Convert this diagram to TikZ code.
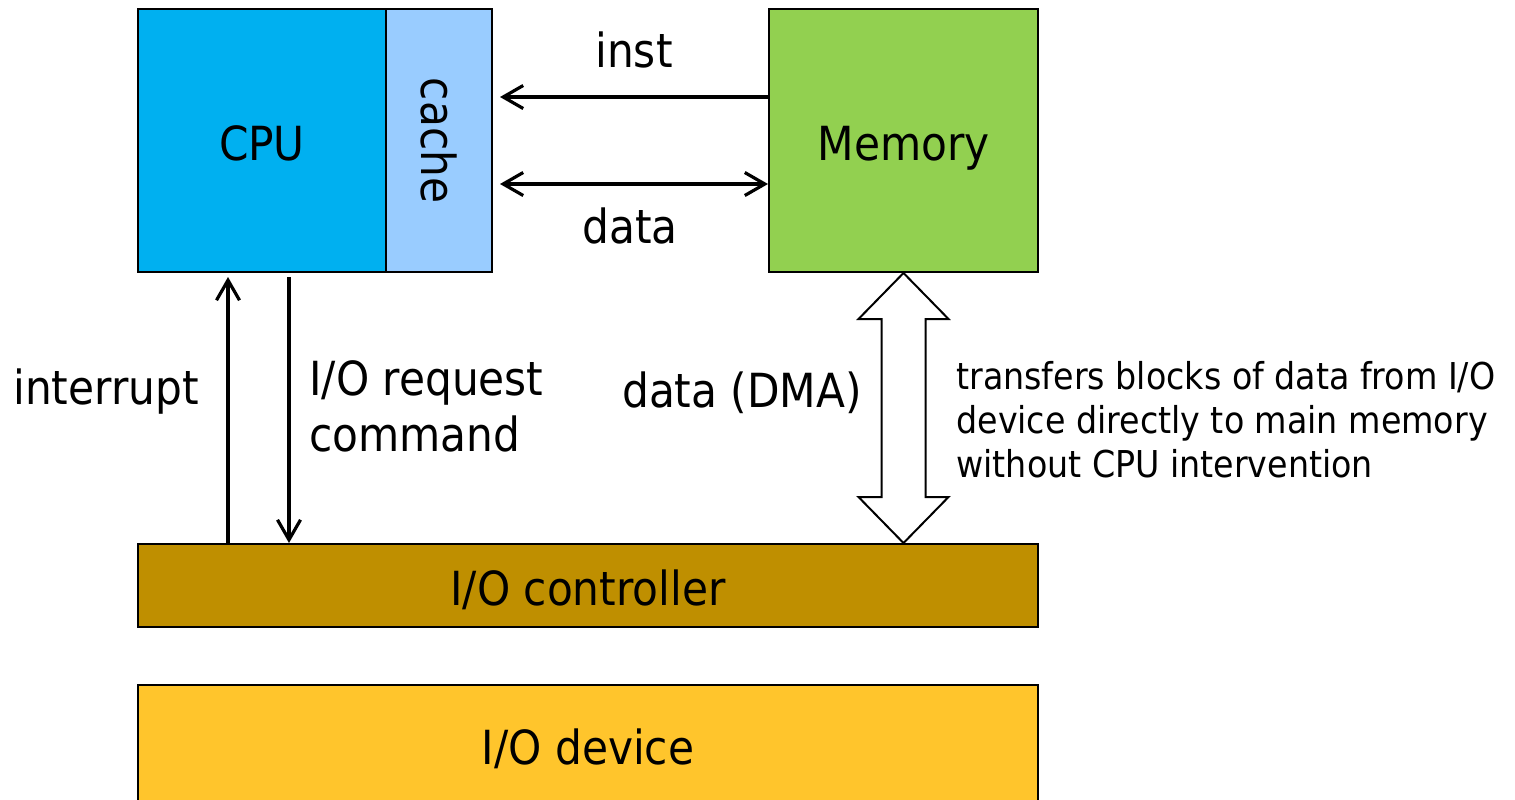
\documentclass[tikz,border=0pt]{standalone}
\usepackage{fontspec}
\setmainfont{DejaVu Sans Condensed}
\usetikzlibrary{arrows.meta,calc}

\definecolor{cpuc}{HTML}{00B0F0}
\definecolor{cachec}{HTML}{99CCFF}
\definecolor{memc}{HTML}{92D050}
\definecolor{ctrlc}{HTML}{BF8F00}
\definecolor{devc}{HTML}{FFC52C}

\begin{document}
\begin{tikzpicture}[x=0.5pt,y=-0.5pt,
  box/.style={draw=black,line width=1pt,inner sep=0pt,text height=19.5pt,text depth=0pt,
              font=\fontsize{23.5}{28}\selectfont},
  lbl/.style={inner sep=0pt,font=\fontsize{23.5}{28}\selectfont},
  note/.style={inner sep=0pt,font=\fontsize{18.5}{22}\selectfont},
  arr/.style={line width=1.6pt,-{Straight Barb[length=10pt,width=11.5pt,line width=1.6pt]}},
  arrs/.style={line width=1.6pt,{Straight Barb[length=10pt,width=11.5pt,line width=1.6pt]}-{Straight Barb[length=10pt,width=11.5pt,line width=1.6pt]}},
  fat/.style={draw=black,line width=1pt,fill=white,line join=miter}]
  \useasboundingbox (0,0) rectangle (1515,799);

  %Shape: Rectangle [CPU]
  \node[box,fill=cpuc,minimum width=124pt,minimum height=131.5pt] (cpu) at (262,140.5) {CPU};
  %Shape: Rectangle [cache]
  \node[box,fill=cachec,minimum width=53pt,minimum height=131.5pt,
        label={[rotate=-90,inner sep=0pt,font=\fontsize{23.5}{28}\selectfont]center:cache}] (cache) at (439,140.5) {};
  %Shape: Rectangle [Memory]
  \node[box,fill=memc,minimum width=134.5pt,minimum height=131.5pt] (mem) at (903.5,140.5) {Memory};
  %Shape: Rectangle [I/O controller]
  \node[box,fill=ctrlc,minimum width=450pt,minimum height=41.5pt] (ctrl) at (588,585.5) {I/O controller};
  %Shape: Rectangle [I/O device]
  \node[box,fill=devc,minimum width=450pt,minimum height=60pt] (dev) at (588,745) {I/O device};

  %Straight Lines [inst, data]
  \draw[arr] ([yshift=21.75pt]mem.west) -- ([xshift=3.5pt,yshift=21.75pt]cache.east);
  \draw[arrs] ([yshift=-21.75pt]mem.west) -- ([xshift=3.5pt,yshift=-21.75pt]cache.east);
  %Straight Lines [interrupt, request]
  \draw[arr] ([xshift=45.5pt]ctrl.north west) -- ([xshift=45.5pt,yshift=-2pt]cpu.south west);
  \draw[arr] ([xshift=76pt,yshift=-2pt]cpu.south west) -- ([xshift=76pt]ctrl.north west);

  %Shape: Double arrow [DMA]
  \coordinate (dmatop) at (mem.south);
  \coordinate (dmabot) at (mem.south |- ctrl.north);
  \draw[fat] (dmatop) -- ++(45,46) -- ++(-23,0) -- ($(dmabot)+(22,-46)$) -- ++(23,0)
    -- (dmabot) -- ++(-45,-46) -- ++(23,0) -- ($(dmatop)+(-22,46)$) -- ++(-23,0) -- cycle;

  % Text Node
  \node[lbl] (inst) at (634,50) {inst};
  % Text Node
  \node[lbl] (data) at (630,226) {data};
  % Text Node
  \node[lbl,anchor=west] (intr) at (13,392) {interrupt};
  % Text Node
  \node[lbl,anchor=west,align=left] (req) at (309,406) {I/O request\\command};
  % Text Node
  \node[lbl] (dma) at (742,393) {data (DMA)};
  % Text Node
  \node[note,anchor=west,align=left] (dmanote) at (956,420) {transfers blocks of data from I/O\\device directly to main memory\\without CPU intervention};
\end{tikzpicture}
\end{document}
